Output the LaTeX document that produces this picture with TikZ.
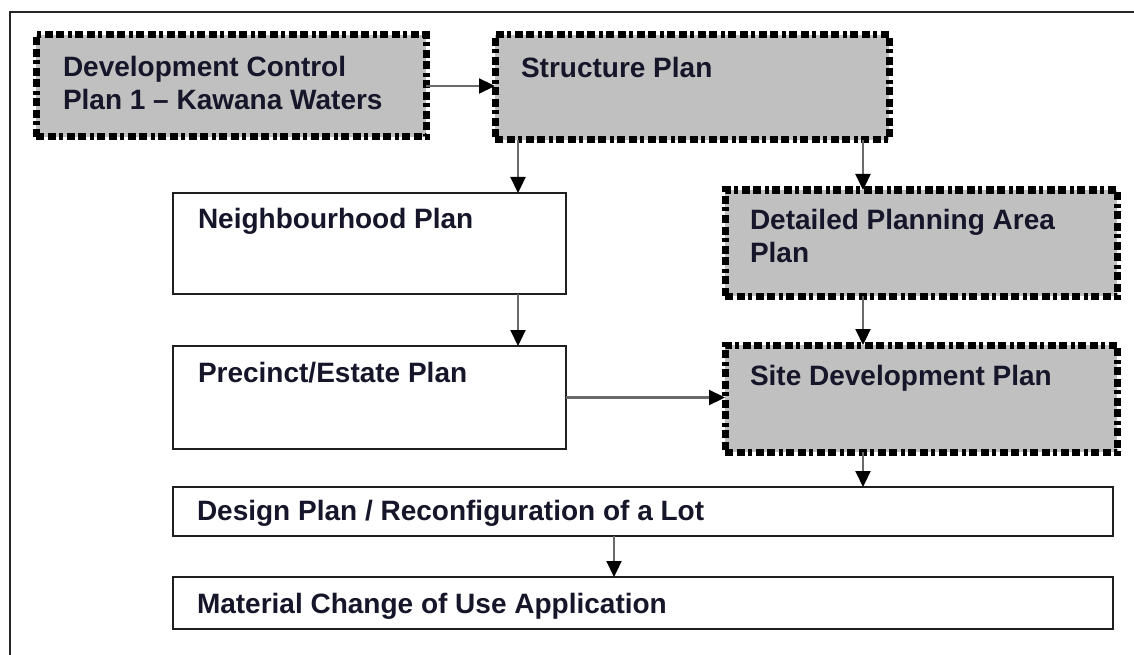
\documentclass[tikz,border=0pt]{standalone}
\usepackage{fontspec}
\setmainfont{Liberation Sans}
\usetikzlibrary{arrows.meta,calc}
\definecolor{boxgray}{HTML}{C0C0C0}
\definecolor{txt}{HTML}{16162A}
\definecolor{arrline}{HTML}{6A6A6A}
\tikzset{
  gbox/.style={draw=black, fill=boxgray, line width=7pt, outer sep=0pt, inner sep=0pt,
    dash pattern=on 8pt off 3.5pt on 8pt off 3.5pt on 4pt off 3.5pt, anchor=north west},
  wbox/.style={draw=black!88, fill=white, line width=2.2pt, outer sep=0pt, inner sep=0pt, anchor=north west},
  lab/.style={anchor=north west, inner sep=0pt, outer sep=0pt, align=left, text=txt,
    font=\bfseries\fontsize{28}{33}\selectfont},
  arr/.style={draw=arrline, line width=2.2pt, -{Triangle[length=16pt,width=15pt,color=black]}},
  frameline/.style={draw=black!85, line width=2.5pt}
}
\begin{document}
\begin{tikzpicture}[x=1pt,y=-1pt]
\useasboundingbox (0,0) rectangle (1134,655);
% outer frame (top and left sides only visible)
\coordinate (fa) at (1134,12);
\coordinate (fb) at (10,12);
\coordinate (fc) at (10,655);
\draw[frameline] (fa) -- (fb) -- (fc);

% boxes
\node[gbox, minimum width=390pt, minimum height=102pt] (dcp) at (36,35) {};
\node[gbox, minimum width=394pt, minimum height=105pt] (sp) at (495,35) {};
\node[wbox, minimum width=393pt, minimum height=101pt] (nb) at (173,193) {};
\node[wbox, minimum width=393pt, minimum height=103pt] (pr) at (173,346) {};
\node[gbox, minimum width=392pt, minimum height=106pt] (dpa) at (725,190) {};
\node[gbox, minimum width=392pt, minimum height=107pt] (sd) at (725,345) {};
\node[wbox, minimum width=940pt, minimum height=49pt] (dp) at (173,487) {};
\node[wbox, minimum width=940pt, minimum height=52pt] (mc) at (173,577) {};

% texts
\node[lab] (dcpt) at ($(dcp.north west)+(27,21)$) {Development Control\\Plan 1 -- Kawana Waters};
\node[lab] (spt) at ($(sp.north west)+(26,22)$) {Structure Plan};
\node[lab] (nbt) at ($(nb.north west)+(25,15)$) {Neighbourhood Plan};
\node[lab] (prt) at ($(pr.north west)+(25,16)$) {Precinct/Estate Plan};
\node[lab] (dpat) at ($(dpa.north west)+(25,19)$) {Detailed Planning Area\\Plan};
\node[lab] (sdt) at ($(sd.north west)+(25,20)$) {Site Development Plan};
\node[lab] (dpt) at ($(dp.north west)+(24,13)$) {Design Plan / Reconfiguration of a Lot};
\node[lab] (mct) at ($(mc.north west)+(24,16)$) {Material Change of Use Application};

% connectors
\draw[arr] (dcp.east) -- (dcp.east -| sp.west);
\draw[arr] ([xshift=23pt]sp.south west) -- ([xshift=23pt]sp.south west |- nb.north);
\draw[arr] ([xshift=-26pt]sp.south east) -- ([xshift=-26pt]sp.south east |- dpa.north);
\draw[arr] ([xshift=-48pt]nb.south east) -- ([xshift=-48pt]nb.south east |- pr.north);
\draw[arr] ([xshift=138pt]dpa.south west) -- ([xshift=138pt]dpa.south west |- sd.north);
\draw[arr] (pr.east) -- (pr.east -| sd.west);
\draw[arr] ([xshift=138pt]sd.south west) -- ([xshift=138pt]sd.south west |- dp.north);
\draw[arr] ([xshift=441pt]dp.south west) -- ([xshift=441pt]dp.south west |- mc.north);
\end{tikzpicture}
\end{document}
